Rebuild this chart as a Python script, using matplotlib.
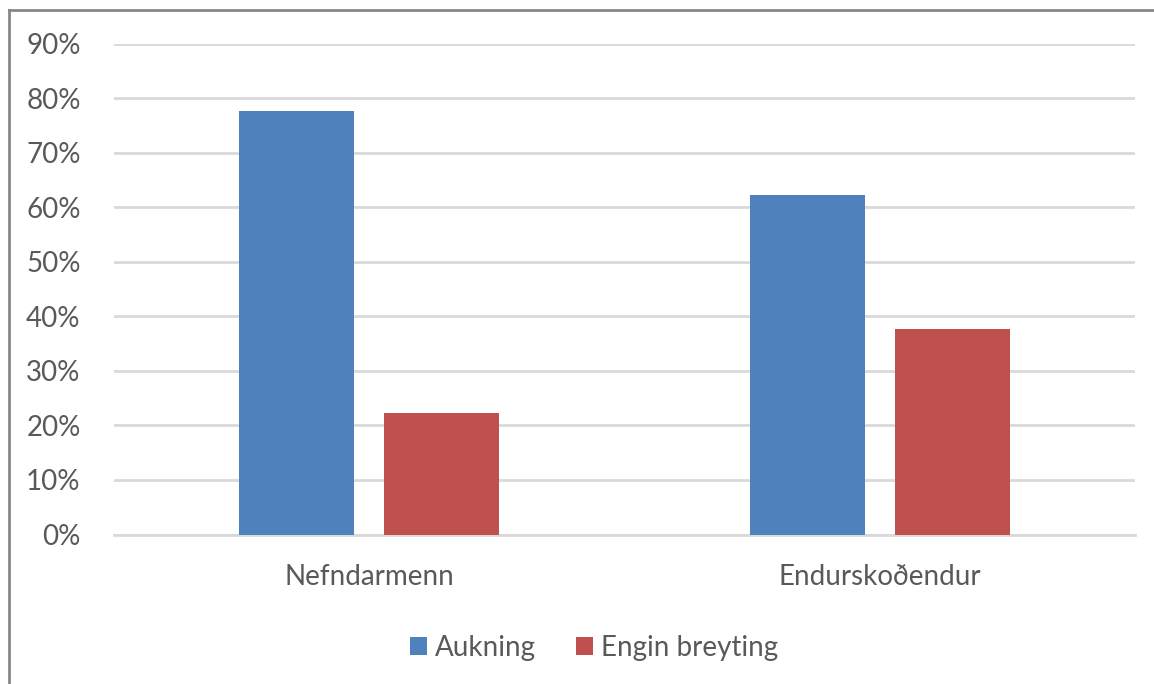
import matplotlib
matplotlib.use("Agg")
import matplotlib.pyplot as plt
from matplotlib.lines import Line2D
from matplotlib.patches import Patch
import numpy as np

categories = ["Nefndarmenn", "Endurskoðendur"]
aukning = [0.777, 0.623]
engin_breyting = [0.223, 0.377]
series_names = ["Aukning", "Engin breyting"]
yticks = [0, 0.1, 0.2, 0.3, 0.4, 0.5, 0.6, 0.7, 0.8, 0.9]
ytick_labels = ["0%", "10%", "20%", "30%", "40%", "50%", "60%", "70%", "80%", "90%"]

plt.rcParams['font.family'] = ['Lato', 'DejaVu Sans']
txt = "#595959"
blue = "#4f81bd"
red = "#c0504d"
fs = 20

fig = plt.figure(figsize=(11.54, 6.84), dpi=100)
ax = fig.add_axes([114/1154, 1-534.5/684, (1135-114)/1154, (534.5-43.5)/684])

x = np.arange(len(categories))
w = 0.225
off = 0.142
ax.bar(x - off, aukning, w, color=blue, zorder=3, label=series_names[0])
ax.bar(x + off, engin_breyting, w, color=red, zorder=3, label=series_names[1])

ax.set_xlim(-0.5, 1.5)
ax.set_ylim(0, 0.9)
ax.set_yticks(yticks)
ax.set_yticklabels(ytick_labels, fontsize=fs, color=txt)
ax.set_xticks(x)
ax.set_xticklabels(categories, fontsize=fs, color=txt)
ax.tick_params(axis='both', length=0)
ax.tick_params(axis='y', pad=24)
ax.tick_params(axis='x', pad=21)
ax.grid(axis='y', color='#d9d9d9', linewidth=2, zorder=0)
for s in ['top', 'right', 'left']:
    ax.spines[s].set_visible(False)
ax.spines['bottom'].set_color('#d9d9d9')
ax.spines['bottom'].set_linewidth(2)

handles = [Patch(facecolor=blue), Patch(facecolor=red)]
fig.legend(handles, series_names, loc='center', bbox_to_anchor=(594/1154, 1-648/684),
           ncol=2, frameon=False, fontsize=fs, labelcolor=txt,
           handlelength=0.62, handleheight=0.62, handletextpad=0.28, columnspacing=1.45)

# chart border
fig.add_artist(Line2D([9/1154, 1], [1-10/684, 1-10/684], color='#878787', lw=2, transform=fig.transFigure))
fig.add_artist(Line2D([9/1154, 9/1154], [0, 1-10/684], color='#878787', lw=2, transform=fig.transFigure))

fig.savefig("out.png", dpi=100, facecolor='white')
